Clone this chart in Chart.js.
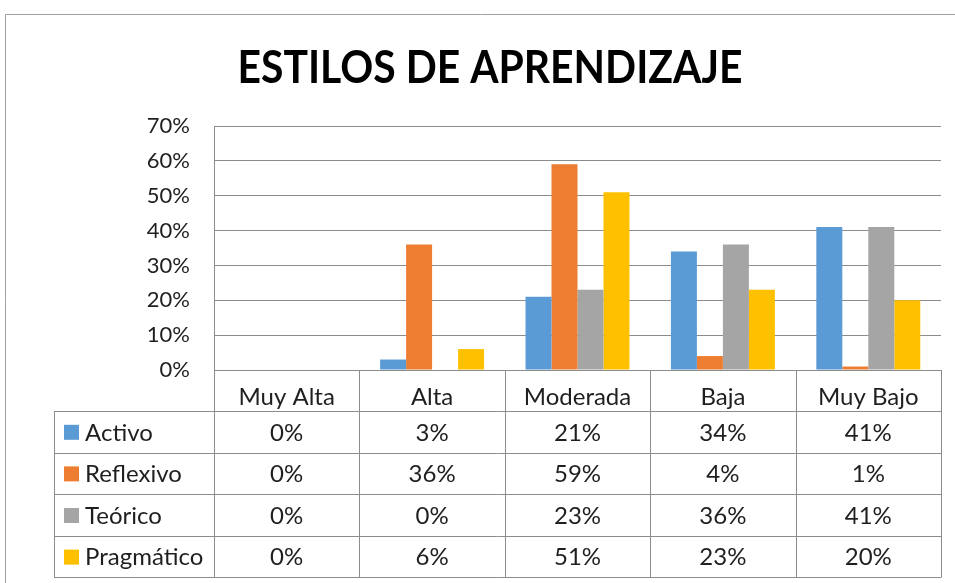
<!DOCTYPE html>
<html>
<head>
<meta charset="utf-8">
<script src="https://cdn.jsdelivr.net/npm/chart.js@4.4.1/dist/chart.umd.min.js"></script>
<style>
  html, body { margin: 0; padding: 0; background: #fff; }
</style>
</head>
<body>
<canvas id="estilos" width="955" height="583"></canvas>
<script>
const categorias = ["Muy Alta", "Alta", "Moderada", "Baja", "Muy Bajo"];
const activo = [0, 3, 21, 34, 41];
const reflexivo = [0, 36, 59, 4, 1];
const teorico = [0, 0, 23, 36, 41];
const pragmatico = [0, 6, 51, 23, 20];
const series = ["Activo", "Reflexivo", "Teórico", "Pragmático"];
const colores = ["#5B9BD5", "#ED7D31", "#A5A5A5", "#FFC000"];
const titulo = "ESTILOS DE APRENDIZAJE";

const gris = "#8c8c8c";
const texto = "#1f1f1f";
const fuente = "Lato";

// marco exterior + titulo
const marcoPlugin = {
  id: "marco",
  beforeDraw(chart) {
    const ctx = chart.ctx;
    ctx.save();
    ctx.strokeStyle = "#a0a0a0";
    ctx.lineWidth = 1;
    ctx.beginPath();
    ctx.moveTo(955, 14.5);
    ctx.lineTo(5.5, 14.5);
    ctx.lineTo(5.5, 583);
    ctx.stroke();
    ctx.fillStyle = "#000";
    ctx.font = "bold 45px " + fuente;
    ctx.textAlign = "center";
    ctx.textBaseline = "middle";
    // titulo algo condensado, como en el original
    ctx.translate(490, 68);
    ctx.scale(505 / ctx.measureText(titulo).width, 1);
    ctx.fillText(titulo, 0, 0);
    ctx.restore();
  }
};

// tabla de datos bajo el eje x
const tablaPlugin = {
  id: "tabla",
  afterDraw(chart) {
    const ctx = chart.ctx;
    const x = chart.scales.x;
    const ancho = (x.right - x.left) / categorias.length;
    const filaH = 41.6;
    const yTop = x.top;
    const yTabla = x.bottom;
    const izq = 54;
    const datos = chart.data.datasets;
    ctx.save();
    ctx.strokeStyle = gris;
    ctx.lineWidth = 1;
    ctx.beginPath();
    // lineas horizontales
    for (let r = 0; r <= datos.length; r++) {
      const y = Math.round(yTabla + r * filaH) + 0.5;
      ctx.moveTo(izq, y);
      ctx.lineTo(x.right, y);
    }
    const yFin = Math.round(yTabla + datos.length * filaH) + 0.5;
    // verticales
    ctx.moveTo(izq + 0.5, yTabla);
    ctx.lineTo(izq + 0.5, yFin);
    for (let c = 0; c <= categorias.length; c++) {
      const xx = Math.round(x.left + c * ancho) + 0.5;
      ctx.moveTo(xx, yTop);
      ctx.lineTo(xx, yFin);
    }
    ctx.stroke();

    ctx.font = "24px " + fuente;
    ctx.textBaseline = "middle";
    datos.forEach((ds, r) => {
      const yc = yTabla + r * filaH + filaH / 2;
      ctx.fillStyle = ds.backgroundColor;
      ctx.fillRect(64, yc - 7, 15, 15);
      ctx.fillStyle = texto;
      ctx.textAlign = "left";
      ctx.fillText(ds.label, 85, yc + 1);
      ctx.textAlign = "center";
      ds.data.forEach((v, c) => {
        ctx.fillText(v + "%", x.getPixelForValue(c), yc + 1);
      });
    });
    ctx.restore();
  }
};

const valores = [activo, reflexivo, teorico, pragmatico];

new Chart(document.getElementById("estilos"), {
  type: "bar",
  data: {
    labels: categorias,
    datasets: series.map((s, i) => ({
      label: s,
      data: valores[i],
      backgroundColor: colores[i],
      borderWidth: 0,
      categoryPercentage: 0.715,
      barPercentage: 1.0
    }))
  },
  options: {
    responsive: false,
    animation: false,
    devicePixelRatio: 1,
    layout: { padding: { left: 0, top: 126, right: 14, bottom: 172 } },
    plugins: {
      legend: { display: false },
      tooltip: { enabled: false },
      title: { display: false }
    },
    scales: {
      x: {
        grid: { display: false },
        border: { display: true, color: gris, width: 1 },
        ticks: {
          color: texto,
          font: { family: fuente, size: 24 },
          padding: 5,
          maxRotation: 0
        },
        afterFit(scale) { scale.height = 41; }
      },
      y: {
        min: 0,
        max: 70,
        ticks: {
          stepSize: 10,
          color: texto,
          font: { family: fuente, size: 22 },
          padding: 24,
          callback: (v) => v + "%"
        },
        grid: { color: gris, lineWidth: 1, drawTicks: false },
        border: { display: true, color: gris, width: 1 },
        afterFit(scale) { scale.width = 214; }
      }
    }
  },
  plugins: [marcoPlugin, tablaPlugin]
});
</script>
</body>
</html>
